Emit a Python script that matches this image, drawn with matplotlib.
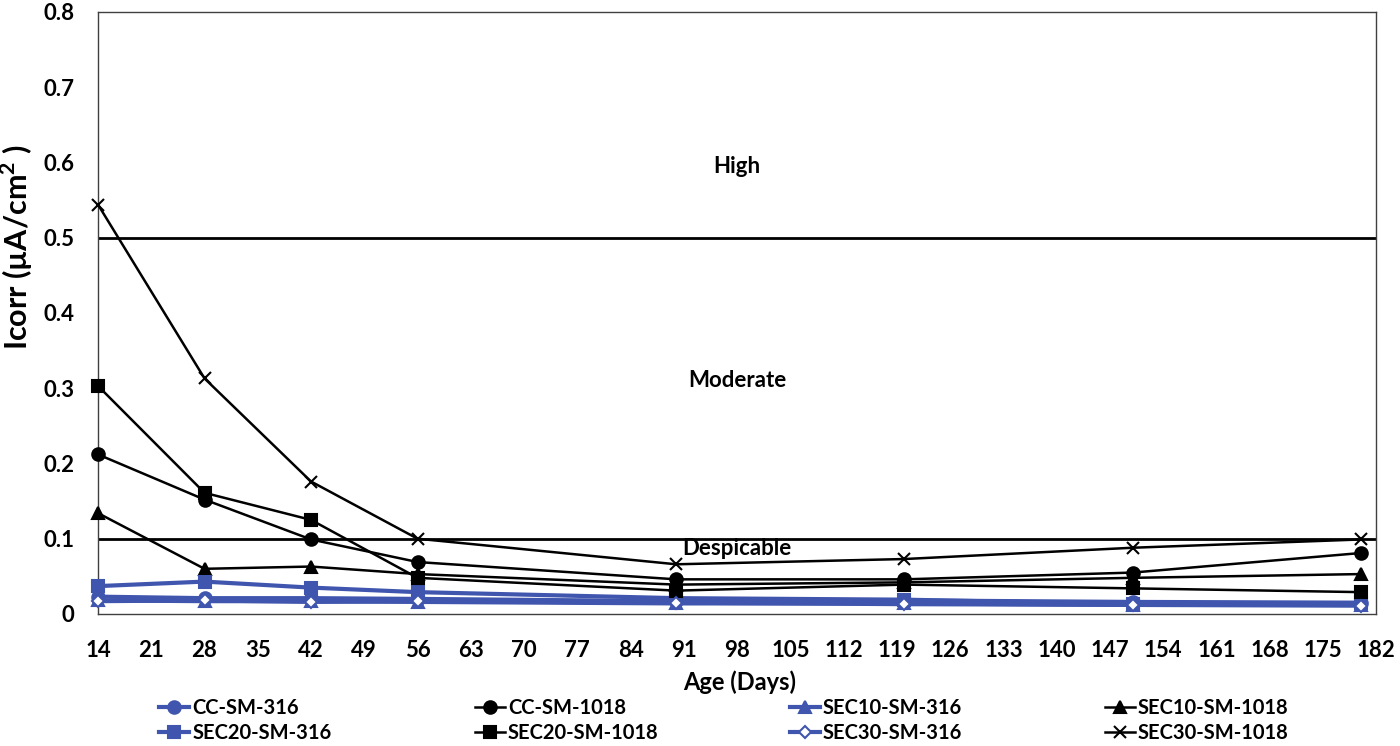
import matplotlib
matplotlib.use("Agg")
import matplotlib.pyplot as plt

plt.rcParams['font.family'] = ['Lato', 'DejaVu Sans']
plt.rcParams['font.weight'] = 'bold'
plt.rcParams['mathtext.fontset'] = 'custom'
plt.rcParams['mathtext.rm'] = 'Lato:bold'
plt.rcParams['mathtext.bf'] = 'Lato:bold'

# Age (jours) et Icorr (µA/cm2)
ages = [14, 28, 42, 56, 90, 120, 150, 180]

cc_316 = [0.023, 0.021, 0.021, 0.020, 0.017, 0.018, 0.016, 0.015]
cc_1018 = [0.212, 0.152, 0.099, 0.069, 0.046, 0.046, 0.055, 0.081]
sec10_316 = [0.018, 0.017, 0.017, 0.016, 0.014, 0.014, 0.012, 0.012]
sec10_1018 = [0.134, 0.060, 0.063, 0.053, 0.039, 0.042, 0.048, 0.053]
sec20_316 = [0.037, 0.043, 0.035, 0.029, 0.021, 0.019, 0.013, 0.014]
sec20_1018 = [0.303, 0.161, 0.125, 0.048, 0.031, 0.039, 0.034, 0.029]
sec30_316 = [0.017, 0.018, 0.016, 0.017, 0.015, 0.013, 0.012, 0.011]
sec30_1018 = [0.544, 0.313, 0.176, 0.100, 0.066, 0.073, 0.088, 0.099]

# Limites des zones de corrosion
seuils = [0.5, 0.1]
zones = ["High", "Moderate", "Despicable"]
zones_y = [0.595, 0.31, 0.087]

x_ticks = list(range(14, 183, 7))
y_ticks = [0, 0.1, 0.2, 0.3, 0.4, 0.5, 0.6, 0.7, 0.8]
y_labels = ["0", "0.1", "0.2", "0.3", "0.4", "0.5", "0.6", "0.7", "0.8"]

BLEU = '#4055AD'
NOIR = '#000000'

fig = plt.figure(figsize=(14, 7.46), dpi=100)
ax = fig.add_axes([0.07, 0.177, 0.913, 0.807])

# Seuils
for s in seuils:
    ax.axhline(s, color='black', lw=2, zorder=1)

# Séries
series = [
    ("CC-SM-316", cc_316, BLEU, 'o', BLEU, 3),
    ("CC-SM-1018", cc_1018, NOIR, 'o', NOIR, 1.8),
    ("SEC10-SM-316", sec10_316, BLEU, '^', BLEU, 3),
    ("SEC10-SM-1018", sec10_1018, NOIR, '^', NOIR, 1.8),
    ("SEC20-SM-316", sec20_316, BLEU, 's', BLEU, 3),
    ("SEC20-SM-1018", sec20_1018, NOIR, 's', NOIR, 1.8),
    ("SEC30-SM-316", sec30_316, BLEU, 'D', 'white', 3),
    ("SEC30-SM-1018", sec30_1018, NOIR, 'x', NOIR, 1.8),
]

handles = {}
for nom, vals, coul, mk, fond, lw in series:
    taille = 9 if mk != 'D' else 6
    h, = ax.plot(ages, vals, color=coul, lw=lw, marker=mk, markersize=taille,
                 markerfacecolor=fond, markeredgecolor=coul,
                 markeredgewidth=1.5, label=nom, zorder=3, clip_on=False)
    handles[nom] = h

# Textes des zones
for texte, yv in zip(zones, zones_y):
    ax.text(98, yv, texte, ha='center', va='center', fontsize=16,
            fontweight='bold')

ax.set_xlim(14, 182)
ax.set_ylim(0, 0.8)
ax.set_xticks(x_ticks)
ax.set_yticks(y_ticks)
ax.set_yticklabels(y_labels)
ax.tick_params(axis='both', length=0, labelsize=16)
ax.tick_params(axis='x', pad=19)
ax.tick_params(axis='y', pad=17)

for sp in ax.spines.values():
    sp.set_color('#404040')
    sp.set_linewidth(1)

ax.set_xlabel("Age (Days)", fontsize=17, fontweight='bold')
ax.xaxis.set_label_coords(0.502, -0.093)
ax.set_ylabel(r"Icorr (µA/cm$^{\mathbf{2}}$ )", fontsize=22, fontweight='bold')
ax.yaxis.set_label_coords(-0.049, 0.61)

# Légende : une colonne par groupe, placée comme dans l'original
colonnes = [
    ["CC-SM-316", "SEC20-SM-316"],
    ["CC-SM-1018", "SEC20-SM-1018"],
    ["SEC10-SM-316", "SEC30-SM-316"],
    ["SEC10-SM-1018", "SEC30-SM-1018"],
]
col_x = [0.1136, 0.339, 0.564, 0.789]
for noms, xc in zip(colonnes, col_x):
    fig.legend([handles[n] for n in noms], noms, loc='center left',
               bbox_to_anchor=(xc, 0.034), frameon=False,
               fontsize=14.5, handlelength=1.5, handletextpad=0.15,
               labelspacing=0.25, borderpad=0, borderaxespad=0)

fig.savefig("out.png", dpi=100)
